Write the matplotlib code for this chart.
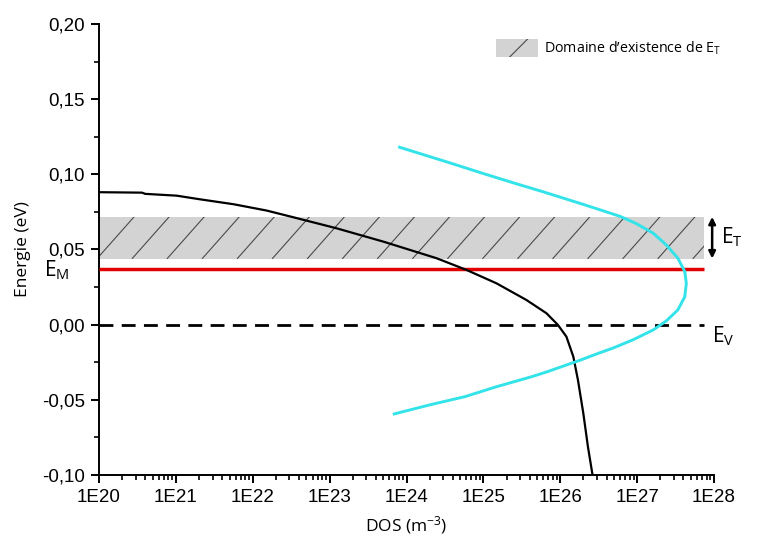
import numpy as np
import matplotlib
matplotlib.use('agg')
import matplotlib.pyplot as plt
from matplotlib.patches import Patch
from matplotlib.ticker import FuncFormatter, LogLocator, MultipleLocator, NullFormatter
from matplotlib.transforms import blended_transform_factory

# --- data ---
# black curve: DOS (log10 of m^-3) vs energy (eV)
black_logdos = [20.01, 20.56, 20.60, 21.01, 21.31, 21.75, 22.18, 22.53, 23.09, 23.70,
                24.39, 24.78, 25.17, 25.56, 25.82, 25.97, 26.08, 26.17, 26.23, 26.30,
                26.36, 26.42]
black_energy = [0.0881, 0.0878, 0.0870, 0.0858, 0.0834, 0.0801, 0.0759, 0.0714, 0.0641, 0.0552,
                0.0442, 0.0364, 0.0275, 0.0164, 0.0076, -0.0002, -0.008, -0.0213, -0.0368, -0.059,
                -0.0812, -0.100]

# cyan curve
cyan_logdos = [23.91, 24.54, 25.00, 25.41, 25.75, 26.00, 26.28, 26.51, 26.78, 26.99,
               27.21, 27.38, 27.53, 27.62, 27.64, 27.62, 27.53, 27.38, 27.21, 26.95,
               26.69, 26.51, 26.24, 25.82, 25.63, 25.17, 24.76, 24.30, 23.84]
cyan_energy = [0.118, 0.108, 0.1005, 0.094, 0.0888, 0.0848, 0.0803, 0.0765, 0.0720, 0.0672,
               0.0608, 0.053, 0.0442, 0.0353, 0.0275, 0.0186, 0.0098, 0.0025, -0.0035, -0.0100,
               -0.0155, -0.0188, -0.0240, -0.0315, -0.0346, -0.0413, -0.0479, -0.0534, -0.0594]

et_low, et_high = 0.044, 0.0717   # domaine d'existence de E_T
em_level = 0.037                  # E_M
ev_level = 0.0                    # E_V
line_x = [1e20, 7.4e27]

xticks = [1e20, 1e21, 1e22, 1e23, 1e24, 1e25, 1e26, 1e27, 1e28]
yticks = [-0.10, -0.05, 0.00, 0.05, 0.10, 0.15, 0.20]

plt.rcParams['mathtext.fontset'] = 'custom'
plt.rcParams['mathtext.rm'] = 'Open Sans'
plt.rcParams['mathtext.it'] = 'Open Sans'
plt.rcParams['hatch.linewidth'] = 0.8

label_font = 'Open Sans'
tick_font = 'Liberation Sans'

fig = plt.figure(figsize=(7.57, 5.5), dpi=100)
ax = fig.add_axes([0.1308, 0.1364, 0.8124, 0.82])

# hatched band
band = ax.axhspan(et_low, et_high, xmin=0, xmax=0.984, facecolor='#d3d3d3',
                  edgecolor='none', zorder=1)
trans = blended_transform_factory(ax.transAxes, ax.transData)
for x0 in np.arange(-0.06, 1.0, 0.057):
    ln, = ax.plot([x0, x0 + 0.06], [et_low, et_high], transform=trans,
                  color='#4a4a4a', lw=0.8, zorder=2)
    ln.set_clip_path(band)

ax.hlines(em_level, line_x[0], line_x[1], color='#e00000', lw=2.5, zorder=3)
ax.hlines(ev_level, line_x[0], line_x[1], color='black', lw=2,
          linestyles=(0, (5, 3)), zorder=3)

ax.plot(10 ** np.array(black_logdos), black_energy, color='black', lw=1.6, zorder=4)
ax.plot(10 ** np.array(cyan_logdos), cyan_energy, color='#33e3ea', lw=2.1, zorder=4)

ax.set_xscale('log')
ax.set_xlim(1e20, 1e28)
ax.set_ylim(-0.10, 0.20)
ax.set_xticks(xticks)
ax.xaxis.set_minor_locator(LogLocator(base=10, subs=np.arange(2, 10)))
ax.xaxis.set_minor_formatter(NullFormatter())
ax.xaxis.set_major_formatter(FuncFormatter(lambda v, p: '1E%d' % round(np.log10(v))))
ax.set_yticks(yticks)
ax.yaxis.set_minor_locator(MultipleLocator(0.025))
ax.yaxis.set_major_formatter(FuncFormatter(lambda v, p: ('%.2f' % v).replace('.', ',')))

for s in ['top', 'right']:
    ax.spines[s].set_visible(False)
for s in ['left', 'bottom']:
    ax.spines[s].set_linewidth(1.4)
ax.tick_params(which='major', direction='out', length=6, width=1.4, pad=4)
ax.tick_params(which='minor', direction='out', length=3.5, width=1.2)
for lab in ax.get_xticklabels() + ax.get_yticklabels():
    lab.set_fontfamily(tick_font)
    lab.set_fontsize(13.5)

ax.set_xlabel('DOS (m$^{-3}$)', fontfamily=label_font, fontsize=12.5, labelpad=6)
ax.set_ylabel('Energie (eV)', fontfamily=label_font, fontsize=12.5, labelpad=8)

# annotations
ax.annotate('', xy=(0.997, et_low), xytext=(0.997, et_high), xycoords=trans,
            arrowprops=dict(arrowstyle='<|-|>', color='black', lw=1.8,
                            mutation_scale=10, shrinkA=0, shrinkB=0),
            annotation_clip=False)
ax.text(1.012, (et_low + et_high) / 2, 'E$_\\mathrm{T}$', transform=trans,
        fontfamily=label_font, fontsize=15, va='center', ha='left', clip_on=False)
ax.text(0.997, -0.008, 'E$_\\mathrm{V}$', transform=trans,
        fontfamily=label_font, fontsize=15, va='center', ha='left', clip_on=False)
ax.text(-0.068, em_level - 0.001, 'E$_\\mathrm{M}$', transform=trans,
        fontfamily=label_font, fontsize=15, va='center', ha='center', clip_on=False)

handle = Patch(facecolor='#d3d3d3', edgecolor='#4a4a4a', linewidth=0, hatch='/')
leg = ax.legend([handle], ['Domaine d\u2019existence de E$_\\mathrm{T}$'],
                loc='upper left', bbox_to_anchor=(0.624, 0.9956), frameon=False,
                handlelength=2.95, handleheight=1.55, handletextpad=0.45,
                prop={'family': label_font, 'size': 10.3})

fig.savefig('out.png', dpi=100)
